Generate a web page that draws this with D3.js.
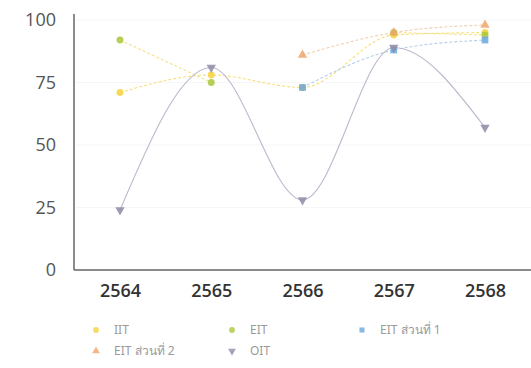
<!DOCTYPE html>
<html>
<head>
<meta charset="utf-8">
<script src="https://cdn.jsdelivr.net/npm/d3@7"></script>
<style>
  body { margin: 0; background: #fff; }
  svg { display: block; font-family: "Open Sans", "Noto Sans", sans-serif; }
</style>
</head>
<body>
<div id="chartDiv"></div>
<script>
const years = ['2564', '2565', '2566', '2567', '2568'];
const yTicks = [0, 25, 50, 75, 100];

const iit = [71, 78, 73, 94, 95];
const eit = [92, 75, null, 95, 94];
const eit1 = [null, null, 73, 88, 92];
const eit2 = [null, null, 86, 95, 98];
const oit = [24, 81, 28, 89, 57];

const seriesNames = ['IIT', 'EIT', 'EIT ส่วนที่ 1', 'EIT ส่วนที่ 2', 'OIT'];
const seriesValues = [iit, eit, eit1, eit2, oit];
const colors = ['#f6d23e', '#a9c83a', '#6aa7de', '#f2a469', '#8f8aa6'];
const lineColors = ['#f7e07a', '#f3e28e', '#b3cde8', '#efcfb0', '#bcb8cc'];
const symbols = [d3.symbolCircle, d3.symbolCircle, d3.symbolSquare, d3.symbolTriangle, d3.symbolTriangle];

const W = 531, H = 368;
const m = { top: 20, left: 74, right: 0, bottom: 98 };
const innerW = W - m.left - m.right;
const innerH = H - m.top - m.bottom;

const svg = d3.select('#chartDiv').append('svg')
    .attr('width', W)
    .attr('height', H);

const g = svg.append('g')
    .attr('transform', `translate(${m.left},${m.top})`);

const x = d3.scalePoint()
    .domain(years)
    .range([46, 411]);

const y = d3.scaleLinear()
    .domain([0, 100])
    .range([innerH, 0]);

// faint grid
g.selectAll('.grid')
    .data(yTicks.slice(1))
    .enter().append('line')
    .attr('x1', 0)
    .attr('x2', innerW)
    .attr('y1', d => y(d))
    .attr('y2', d => y(d))
    .attr('stroke', '#f6f6f6')
    .attr('stroke-width', 1);

// y axis
const yAxis = g.append('g')
    .call(d3.axisLeft(y).tickValues(yTicks).tickSize(0).tickPadding(18));
yAxis.select('.domain').attr('stroke', '#666').attr('stroke-width', 1.5).attr('d', `M0,${y(100) - 6}V${innerH}`);
yAxis.selectAll('text').attr('font-size', 18).attr('fill', '#555').attr('font-family', '"Open Sans", sans-serif');

// x axis
const xAxis = g.append('g')
    .attr('transform', `translate(0,${innerH})`)
    .call(d3.axisBottom(x).tickSize(0).tickPadding(14));
xAxis.select('.domain').attr('stroke', '#666').attr('stroke-width', 1.5).attr('d', `M0,0H${innerW}`);
xAxis.selectAll('text').attr('font-size', 18).attr('fill', '#333').attr('font-weight', 600).attr('font-family', '"Open Sans", sans-serif');

const line = d3.line()
    .defined(d => d.v != null)
    .x(d => x(d.yr))
    .y(d => y(d.v))
    .curve(d3.curveMonotoneX);

seriesValues.forEach((vals, si) => {
    const pts = vals.map((v, i) => ({ yr: years[i], v }));
    g.append('path')
        .datum(pts)
        .attr('fill', 'none')
        .attr('stroke', lineColors[si])
        .attr('stroke-width', 1.1)
        .attr('stroke-dasharray', si === 4 ? null : '3,2')
        .attr('d', line);
});

// markers
seriesValues.forEach((vals, si) => {
    const pts = vals.map((v, i) => ({ yr: years[i], v })).filter(p => p.v != null);
    g.selectAll(`.mk${si}`)
        .data(pts)
        .enter().append('path')
        .attr('d', d3.symbol().type(symbols[si]).size(si === 2 ? 45 : 38))
        .attr('transform', p => `translate(${x(p.yr)},${y(p.v)})${si === 4 ? ' rotate(180)' : ''}`)
        .attr('fill', colors[si])
        .attr('opacity', 0.85);
});

// legend
const legendPos = [[96, 330], [232, 330], [362, 330], [96, 351], [232, 351]];
seriesNames.forEach((name, si) => {
    const lg = svg.append('g')
        .attr('transform', `translate(${legendPos[si][0]},${legendPos[si][1]})`);
    lg.append('path')
        .attr('d', d3.symbol().type(symbols[si]).size(26))
        .attr('transform', si === 4 ? 'rotate(180)' : null)
        .attr('fill', colors[si])
        .attr('opacity', 0.8);
    lg.append('text')
        .attr('x', 18)
        .attr('y', 4)
        .attr('font-size', 12)
        .attr('fill', '#9a9a9a')
        .attr('font-family', '"Noto Sans", sans-serif')
        .text(name);
});
</script>
</body>
</html>
